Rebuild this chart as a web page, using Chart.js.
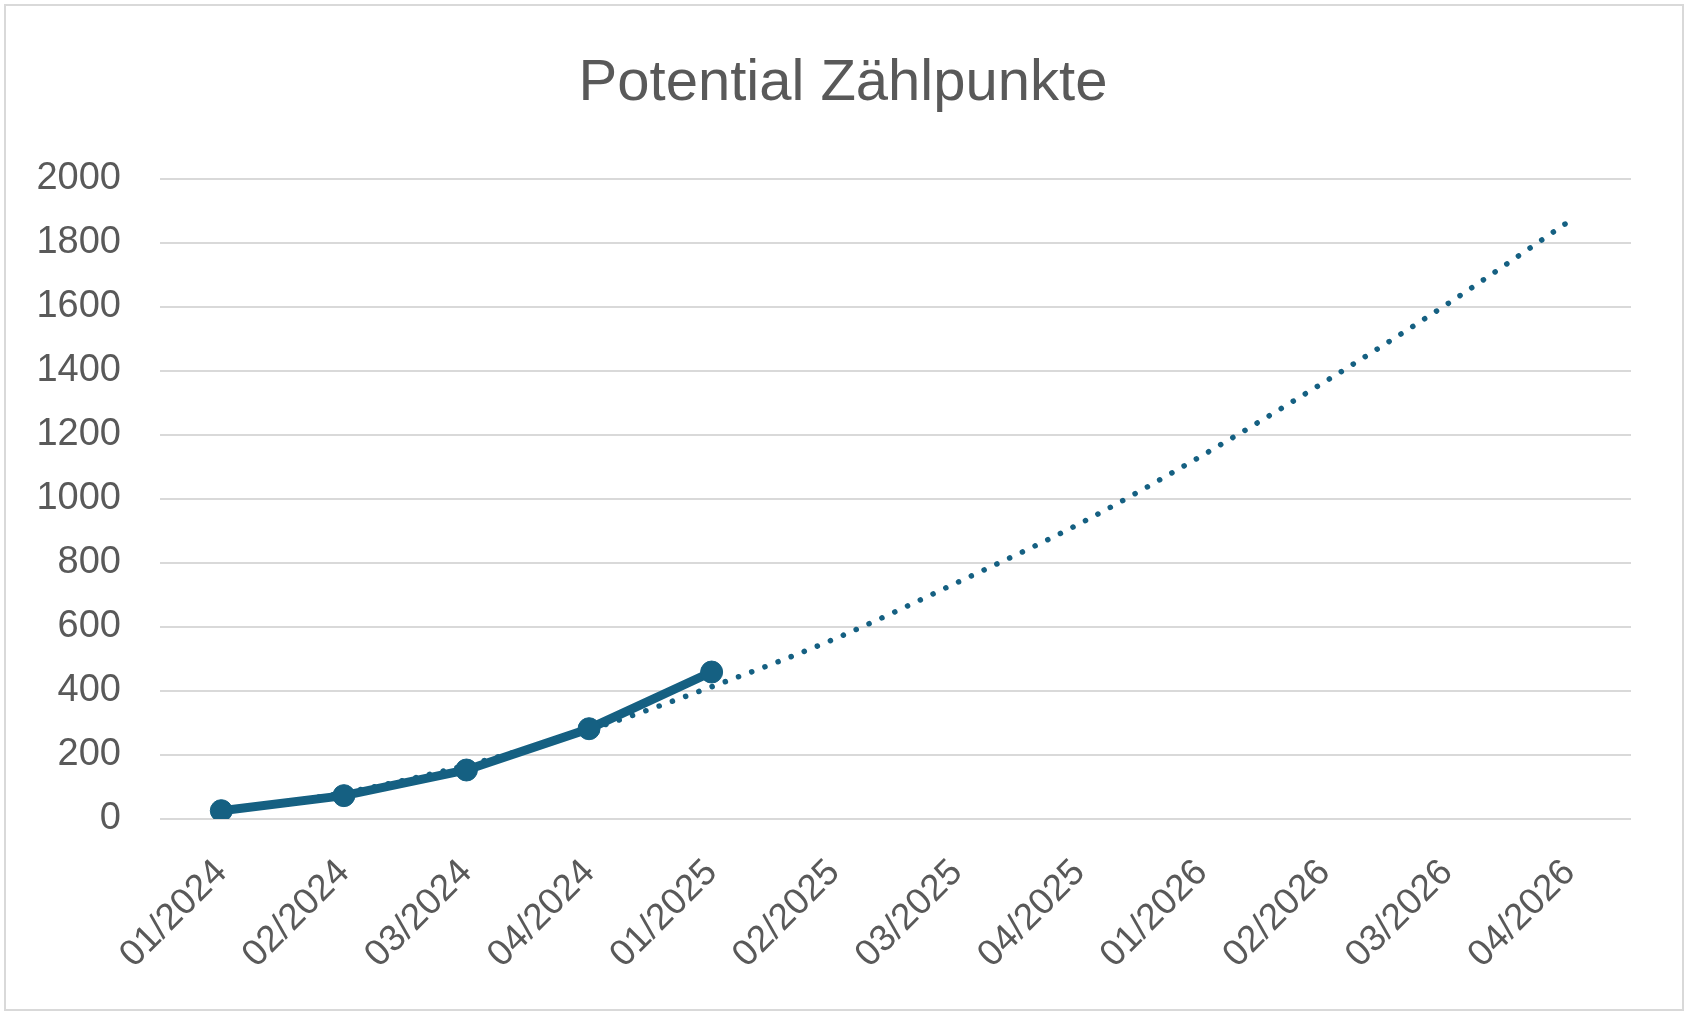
<!DOCTYPE html>
<html>
<head>
<meta charset="utf-8">
<script src="https://cdn.jsdelivr.net/npm/chart.js@4/dist/chart.umd.min.js"></script>
<style>
  html, body { margin: 0; padding: 0; background: #ffffff; }
  #wrap { position: relative; width: 1686px; height: 1011px; }
  #frame { position: absolute; left: 4px; top: 4px; width: 1676px; height: 1003px; border: 2px solid #d9d9d9; pointer-events: none; }
  canvas { position: absolute; left: 0; top: 0; }
</style>
</head>
<body>
<div id="wrap">
  <canvas id="c" width="1686" height="1011"></canvas>
  <div id="frame"></div>
</div>
<script>
const categories = ["01/2024", "02/2024", "03/2024", "04/2024", "01/2025", "02/2025", "03/2025", "04/2025", "01/2026", "02/2026", "03/2026", "04/2026"];
const actualValues = [26, 73, 153, 282, 459, null, null, null, null, null, null, null];
const trendValues = [26, 82, 168, 278, 413, 562, 738, 922, 1135, 1365, 1608, 1868];
const yTicks = [0, 200, 400, 600, 800, 1000, 1200, 1400, 1600, 1800, 2000];
const titleText = "Potential Zählpunkte";

const blue = "#156082";
const textGray = "#595959";
const gridGray = "#d9d9d9";
const fontFamily = "'Liberation Sans', Arial, sans-serif";

new Chart(document.getElementById("c"), {
  type: "line",
  data: {
    labels: categories,
    datasets: [
      {
        label: "Zählpunkte",
        data: actualValues,
        borderColor: blue,
        backgroundColor: blue,
        borderWidth: 9,
        pointRadius: 11,
        pointBorderWidth: 1,
        pointBackgroundColor: blue,
        pointBorderColor: blue,
        tension: 0,
        spanGaps: false,
        order: 0
      },
      {
        label: "Trend",
        data: trendValues,
        borderColor: blue,
        borderWidth: 5.5,
        borderDash: [0.1, 14],
        borderCapStyle: "round",
        pointRadius: 0,
        cubicInterpolationMode: "monotone",
        order: 1
      }
    ]
  },
  options: {
    responsive: false,
    animation: false,
    devicePixelRatio: 1,
    layout: { padding: { left: 0, right: 0, top: 0, bottom: 0 } },
    plugins: {
      legend: { display: false },
      tooltip: { enabled: false },
      title: {
        display: true,
        text: titleText,
        color: textGray,
        font: { family: fontFamily, size: 58, weight: "normal" },
        padding: { top: 49, bottom: 60 }
      }
    },
    scales: {
      x: {
        offset: true,
        grid: { display: false, drawTicks: false },
        border: { display: false },
        ticks: {
          color: textGray,
          font: { family: fontFamily, size: 37 },
          minRotation: 45,
          maxRotation: 45,
          padding: 32,
          autoSkip: false
        },
        afterFit: (s) => { s.height = 192; }
      },
      y: {
        position: "left",
        min: 0,
        max: 2000,
        grid: { color: gridGray, lineWidth: 2, drawTicks: false },
        border: { display: false },
        afterBuildTicks: (s) => { s.ticks = yTicks.map(v => ({ value: v })); },
        ticks: {
          color: textGray,
          font: { family: fontFamily, size: 38 },
          padding: 39,
          callback: (v) => String(v)
        },
        afterFit: (s) => { s.width = 160; }
      },
      yRight: {
        position: "right",
        display: true,
        grid: { display: false, drawTicks: false },
        border: { display: false },
        ticks: { display: false },
        afterFit: (s) => { s.width = 55; }
      }
    }
  }
});
</script>
</body>
</html>
